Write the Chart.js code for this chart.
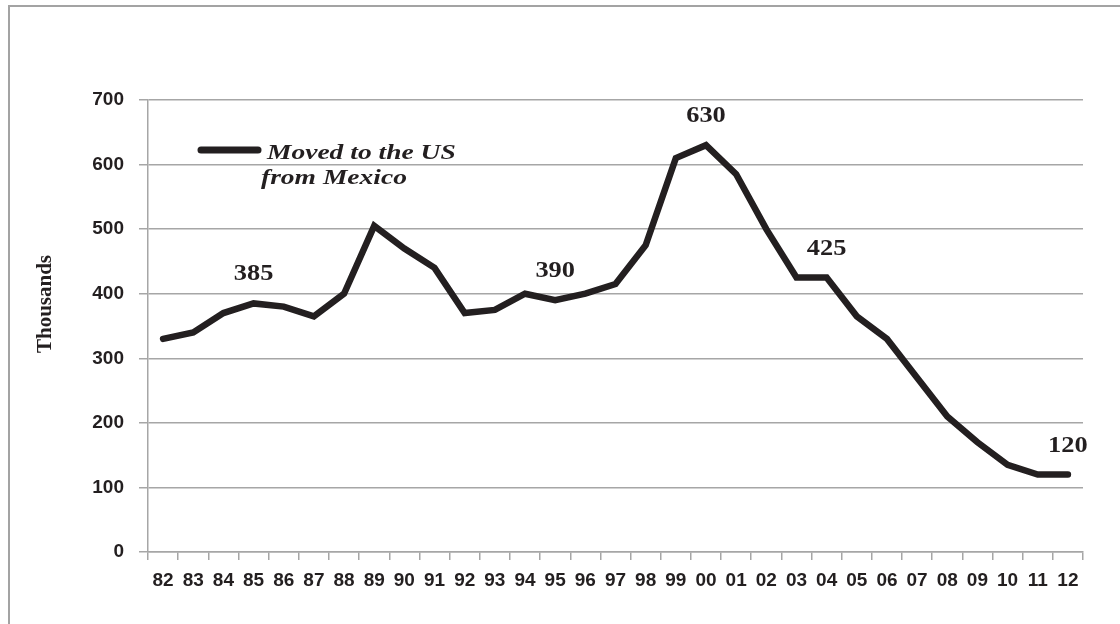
<!DOCTYPE html>
<html lang="en">
<head>
    <meta charset="UTF-8">
    <title>Moved to the US from Mexico</title>
    <script src="https://cdn.jsdelivr.net/npm/chart.js"></script>
    <style>
        html, body { margin: 0; padding: 0; background: #fff; }
        canvas { display: block; }
    </style>
</head>
<body>
    <canvas id="migrationChart" width="1120" height="624"></canvas>

    <script>
        // Years (two-digit labels as on the axis)
        const years = ['82', '83', '84', '85', '86', '87', '88', '89', '90', '91', '92', '93', '94', '95', '96',
                       '97', '98', '99', '00', '01', '02', '03', '04', '05', '06', '07', '08', '09', '10', '11', '12'];

        // Thousands of people who moved to the US from Mexico
        const movedToUS = [330, 340, 370, 385, 380, 365, 400, 505, 470, 440, 370, 375, 400, 390, 400,
                           415, 475, 610, 630, 585, 500, 425, 425, 365, 330, 270, 210, 170, 135, 120, 120];

        // Points that carry a value label
        const labelledYears = ['85', '95', '00', '04', '12'];

        const yTicks = [0, 100, 200, 300, 400, 500, 600, 700];

        const seriesName = ['Moved to the US', 'from Mexico'];
        const yTitle = 'Thousands';

        const ink = '#231f20';
        const gridGray = '#a6a6a6';

        // frame, axis title, legend and point labels
        const decorations = {
            id: 'decorations',
            beforeDraw(chart) {
                const c = chart.ctx;
                c.save();
                c.fillStyle = '#fff';
                c.fillRect(0, 0, chart.width, chart.height);
                c.strokeStyle = '#a3a3a3';
                c.lineWidth = 2;
                c.strokeRect(9, 6, chart.width + 20, chart.height + 20);
                c.restore();
            },
            afterDatasetsDraw(chart) {
                const c = chart.ctx;
                const x = chart.scales.x;
                const y = chart.scales.y;
                c.save();
                c.fillStyle = ink;

                // y axis title
                c.save();
                c.translate(51, 304);
                c.rotate(-Math.PI / 2);
                c.font = 'bold 21px "Liberation Serif", "Times New Roman", serif';
                c.textAlign = 'center';
                c.textBaseline = 'alphabetic';
                c.fillText(yTitle, 0, 0);
                c.restore();

                // value labels
                c.font = 'bold 24px "Liberation Serif", "Times New Roman", serif';
                c.textAlign = 'center';
                c.textBaseline = 'alphabetic';
                labelledYears.forEach(yr => {
                    const i = years.indexOf(yr);
                    const px = x.getPixelForValue(i);
                    const py = y.getPixelForValue(movedToUS[i]);
                    c.save();
                    c.translate(px, py - 23);
                    c.scale(1.1, 1);
                    c.fillText(String(movedToUS[i]), 0, 0);
                    c.restore();
                });

                // legend
                c.strokeStyle = ink;
                c.lineWidth = 7;
                c.lineCap = 'round';
                c.beginPath();
                c.moveTo(201, 150);
                c.lineTo(258, 150);
                c.stroke();
                c.font = 'italic bold 22px "Liberation Serif", "Times New Roman", serif';
                c.textAlign = 'left';
                c.save();
                c.translate(267, 159);
                c.scale(1.25, 1);
                c.fillText(seriesName[0], 0, 0);
                c.restore();
                c.save();
                c.translate(261, 184);
                c.scale(1.25, 1);
                c.fillText(seriesName[1], 0, 0);
                c.restore();

                c.restore();
            }
        };

        const ctx = document.getElementById('migrationChart').getContext('2d');

        const chart = new Chart(ctx, {
            type: 'line',
            data: {
                labels: years,
                datasets: [{
                    label: seriesName.join(' '),
                    data: movedToUS,
                    borderColor: ink,
                    backgroundColor: ink,
                    borderWidth: 6.5,
                    borderCapStyle: 'round',
                    borderJoinStyle: 'miter',
                    pointRadius: 0,
                    tension: 0,
                    fill: false
                }]
            },
            options: {
                responsive: false,
                animation: false,
                layout: { padding: { top: 100, right: 37, left: 0, bottom: 0 } },
                plugins: {
                    legend: { display: false },
                    tooltip: { enabled: false }
                },
                scales: {
                    x: {
                        type: 'category',
                        offset: true,
                        grid: {
                            offset: true,
                            drawOnChartArea: false,
                            drawTicks: true,
                            tickLength: 8,
                            color: gridGray,
                            lineWidth: 1.5
                        },
                        border: { display: true, color: gridGray, width: 1.5 },
                        ticks: {
                            color: ink,
                            padding: 9,
                            maxRotation: 0,
                            autoSkip: false,
                            font: { family: '"Liberation Sans", Arial, sans-serif', size: 19, weight: 'bold' }
                        },
                        afterFit(scale) { scale.height = 72; }
                    },
                    y: {
                        min: 0,
                        max: 700,
                        afterBuildTicks(scale) {
                            scale.ticks = yTicks.map(v => ({ value: v }));
                        },
                        grid: {
                            color: gridGray,
                            lineWidth: 1.5,
                            drawTicks: true,
                            tickLength: 9
                        },
                        border: { display: true, color: gridGray, width: 1.5 },
                        ticks: {
                            color: ink,
                            padding: 15,
                            font: { family: '"Liberation Sans", Arial, sans-serif', size: 19, weight: 'bold' }
                        },
                        afterFit(scale) { scale.width = 148; }
                    }
                }
            },
            plugins: [decorations]
        });
    </script>
</body>
</html>
